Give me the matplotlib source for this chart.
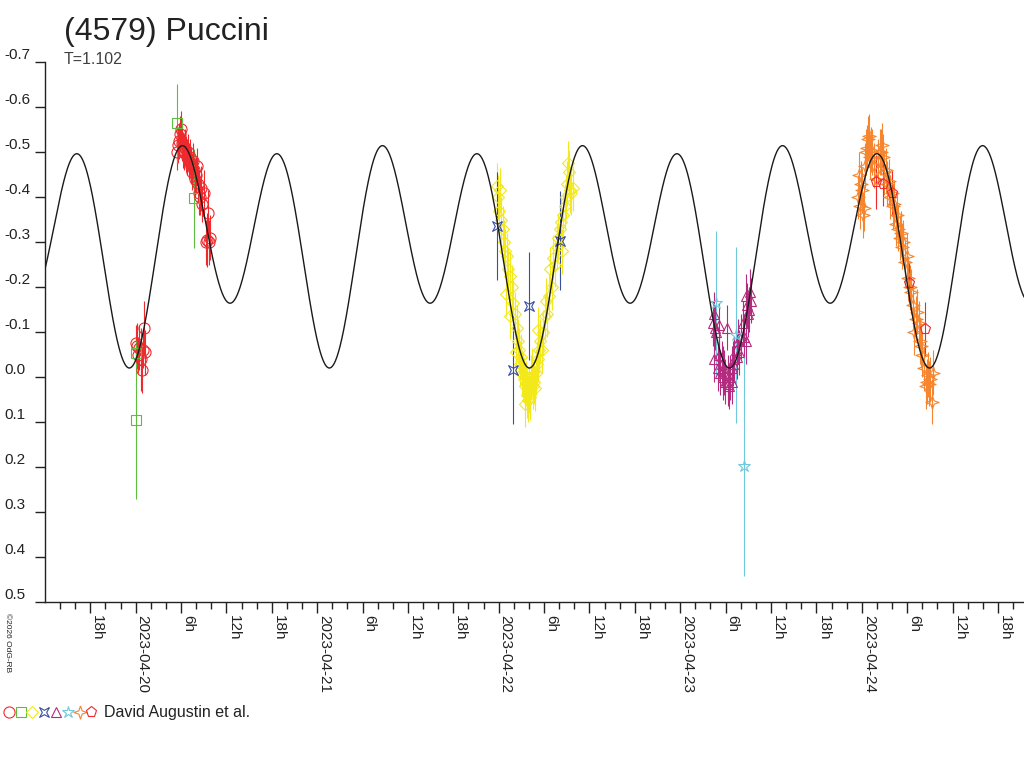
import numpy as np
import matplotlib
matplotlib.use('Agg')
import matplotlib.pyplot as plt
import matplotlib.dates as mdates
from matplotlib.lines import Line2D
from matplotlib.legend_handler import HandlerTuple
from datetime import datetime, timedelta

plt.rcParams['font.family'] = ['Liberation Sans', 'DejaVu Sans']

# fecha de referencia: horas medidas desde 2023-04-20 00h UT
base = datetime(2023, 4, 20)

# circulos rojos
red_h = [0.07, 0.20, 0.33, 0.46, 0.66, 0.79, 0.93, 1.13, 1.26,
         5.43, 5.56, 5.69, 5.83, 5.96, 6.09, 6.22, 6.36, 6.49, 6.62, 6.75,
         6.89, 7.02, 7.15, 7.28, 7.42, 7.55, 7.68, 7.81, 7.94, 8.08, 8.21,
         8.34, 8.47, 8.61, 8.74, 9.00, 9.27, 9.40, 9.53, 9.67, 9.80]
red_m = [-0.075, -0.070, -0.050, -0.065, -0.040, -0.015, -0.060, -0.110, -0.055,
         -0.500, -0.515, -0.525, -0.540, -0.550, -0.520, -0.505, -0.500, -0.510, -0.495, -0.490,
         -0.500, -0.480, -0.490, -0.470, -0.455, -0.480, -0.460, -0.440, -0.450, -0.470, -0.430,
         -0.410, -0.400, -0.420, -0.385, -0.410, -0.300, -0.305, -0.365, -0.300, -0.310]
red_e = [0.04, 0.05, 0.04, 0.05, 0.07, 0.05, 0.04, 0.06, 0.05,
         0.04, 0.04, 0.04, 0.04, 0.04, 0.04, 0.04, 0.04, 0.04, 0.04, 0.04,
         0.04, 0.04, 0.04, 0.04, 0.04, 0.04, 0.04, 0.04, 0.04, 0.04, 0.04,
         0.05, 0.04, 0.05, 0.04, 0.05, 0.05, 0.06, 0.05, 0.05, 0.05]

# cuadrados verdes
green_h = [0.04, 0.11, 5.52, 7.77]
green_m = [0.096, -0.053, -0.564, -0.397]
green_e = [0.175, 0.03, 0.088, 0.11]

# rombos amarillos (2023-04-22)
yellow_h = [47.80, 47.93, 48.06, 48.20, 48.33, 48.59, 48.73, 48.86, 49.12, 49.26,
            49.52, 48.99, 49.79, 49.92, 50.18, 49.52, 50.45, 50.58, 50.32, 50.71,
            50.85, 50.98, 51.11, 51.24, 51.37, 51.51, 51.64, 51.77, 51.51, 51.90,
            52.04, 52.17, 52.30, 52.43, 52.57, 52.70, 52.83, 52.96, 53.10, 53.23,
            53.36, 53.23, 53.49, 53.76, 53.89, 54.15, 54.29, 54.42, 54.68, 54.82,
            55.08, 55.21, 55.48, 55.74, 55.88, 56.14, 56.40, 56.27, 56.54, 56.80,
            56.93, 57.07, 57.20, 57.33, 57.46, 57.60, 57.86]
yellow_m = [-0.425, -0.400, -0.370, -0.415, -0.350, -0.330, -0.300, -0.280, -0.270, -0.240,
            -0.225, -0.185, -0.200, -0.165, -0.140, -0.135, -0.110, -0.080, -0.055, -0.060,
            -0.030, -0.045, -0.010, -0.005, 0.005, 0.020, 0.015, 0.040, 0.060, 0.050,
            0.030, 0.045, 0.000, -0.015, 0.020, 0.010, 0.025, -0.010, -0.030, -0.040,
            -0.060, -0.105, -0.080, -0.060, -0.100, -0.135, -0.170, -0.140, -0.180, -0.240,
            -0.200, -0.265, -0.250, -0.290, -0.310, -0.330, -0.280, -0.345, -0.360, -0.380,
            -0.400, -0.430, -0.475, -0.455, -0.415, -0.410, -0.420]
yellow_e = [0.05] * len(yellow_m)

# estrellas azules
blue_h = [47.84, 49.88, 52.04, 56.05]
blue_m = [-0.336, -0.016, -0.158, -0.303]
blue_e = [0.12, 0.12, 0.12, 0.11]

# triangulos morados (2023-04-23)
purple_h = [76.27, 76.40, 76.53, 76.66, 76.79, 76.93, 77.06, 77.19, 77.32, 77.46,
            77.59, 77.72, 77.85, 77.98, 78.12, 78.25, 78.38, 78.51, 78.64, 78.78,
            78.91, 79.04, 79.17, 79.31, 79.57, 79.70, 79.83, 80.10, 80.36, 80.49,
            80.63, 80.76, 80.89, 81.02, 81.15, 81.29, 81.42]
purple_m = [-0.120, -0.040, -0.140, -0.110, -0.100, -0.020, -0.115, -0.050, -0.010, -0.030,
            0.000, -0.020, -0.010, 0.010, -0.110, 0.015, 0.000, 0.020, 0.000, 0.010,
            -0.020, -0.030, -0.040, -0.060, -0.045, -0.080, -0.055, -0.090, -0.120, -0.090,
            -0.180, -0.080, -0.160, -0.140, -0.150, -0.190, -0.170]
purple_e = [0.05] * len(purple_m)

# estrellas celestes
cyan_h = [76.79, 79.31, 80.41]
cyan_m = [-0.165, -0.093, 0.198]
cyan_e = [0.16, 0.195, 0.245]

# estrellas naranjas (2023-04-24)
orange_h = [95.47, 95.60, 95.73, 95.87, 96.00, 96.13, 96.26, 96.40, 96.53, 96.66,
            96.79, 96.93, 97.06, 97.19, 97.32, 97.59, 97.85, 98.12, 98.38, 98.51,
            98.65, 98.78, 98.91, 99.18, 99.31, 99.57, 99.70, 99.97, 100.10, 100.23,
            100.50, 100.63, 100.76, 101.02, 101.16, 101.29, 101.42, 101.69, 101.95, 102.08,
            102.35, 102.48, 102.74, 102.88, 103.14, 103.27, 103.54, 103.67, 103.80, 103.93,
            104.19, 104.46, 104.59, 104.72, 104.86, 104.99, 105.25, 105.39]
orange_m = [-0.400, -0.450, -0.380, -0.430, -0.415, -0.360, -0.375, -0.470, -0.500, -0.510,
            -0.530, -0.535, -0.490, -0.505, -0.500, -0.470, -0.440, -0.480, -0.500, -0.500,
            -0.515, -0.490, -0.455, -0.460, -0.430, -0.435, -0.400, -0.410, -0.380, -0.385,
            -0.340, -0.360, -0.330, -0.310, -0.320, -0.290, -0.300, -0.255, -0.270, -0.220,
            -0.200, -0.190, -0.160, -0.100, -0.130, -0.145, -0.120, -0.080, -0.070, -0.050,
            -0.020, 0.020, 0.010, -0.005, 0.015, 0.005, 0.055, -0.010]
orange_e = [0.05] * len(orange_m)

# pentagonos rojos
penta_h = [97.85, 98.78, 100.06, 102.26, 104.38]
penta_m = [-0.434, -0.430, -0.408, -0.210, -0.107]
penta_e = [0.06, 0.05, 0.05, 0.045, 0.06]

# ajuste de Fourier de la curva de luz (periodo en dias)
periodo = 1.102
epoca = -0.033          # dias desde 2023-04-20 00h
mag_media = -0.297
a1, b1 = 0.072, -0.009
a2 = 0.205

etiqueta_y = [-0.7, -0.6, -0.5, -0.4, -0.3, -0.2, -0.1, 0.0, 0.1, 0.2, 0.3, 0.4, 0.5]


def fechas(horas):
    return mdates.date2num([base + timedelta(hours=h) for h in horas])


fig = plt.figure(figsize=(10.24, 7.68), dpi=100)
ax = fig.add_axes([45 / 1024, 1 - 602 / 768, 1 - 45 / 1024, 540 / 768])

series = [
    (red_h, red_m, red_e, 'o', '#ee2a2e', 8),
    (green_h, green_m, green_e, 's', '#5cbd3e', 6.5),
    (yellow_h, yellow_m, yellow_e, 'D', '#f3e81a', 6.3),
    (blue_h, blue_m, blue_e,
     [(1, 1), (0.45, 0), (1, -1), (0, -0.45), (-1, -1), (-0.45, 0), (-1, 1), (0, 0.45), (1, 1)],
     '#3a4ea3', 7),
    (purple_h, purple_m, purple_e, '^', '#b42a7e', 7.5),
    (cyan_h, cyan_m, cyan_e, '*', '#6fc9dc', 9),
    (orange_h, orange_m, orange_e,
     [(0, 1), (0.25, 0.25), (1, 0), (0.25, -0.25), (0, -1), (-0.25, -0.25), (-1, 0), (-0.25, 0.25), (0, 1)],
     '#f5862f', 9.5),
    (penta_h, penta_m, penta_e, 'p', '#ee2a2e', 8),
]

proxies = []
for h, m, e, mk, col, ms in series:
    ax.errorbar(fechas(h), m, yerr=e, fmt='none', ecolor=col, elinewidth=0.8, capsize=0, zorder=2)
    ax.plot(fechas(h), m, ls='none', marker=mk, ms=ms, mfc='none', mec=col, mew=0.8, zorder=3)
    proxies.append(Line2D([], [], ls='none', marker=mk, ms=ms, mfc='none', mec=col, mew=0.8))

# curva del modelo
x0 = mdates.date2num(datetime(2023, 4, 19, 12, 1))
x1 = mdates.date2num(datetime(2023, 4, 24, 21, 27))
xs = np.linspace(x0, x1, 2000)
fase = (xs - mdates.date2num(base) - epoca) / periodo
modelo = (mag_media + a1 * np.cos(2 * np.pi * fase) + b1 * np.sin(2 * np.pi * fase)
          + a2 * np.cos(4 * np.pi * fase))
ax.plot(xs, modelo, color='#1a1a1a', lw=1.0, zorder=5)

ax.set_xlim(x0, x1)
ax.set_ylim(0.5, -0.7)

for s in ['top', 'right']:
    ax.spines[s].set_visible(False)
for s in ['left', 'bottom']:
    ax.spines[s].set_color('#222222')
    ax.spines[s].set_linewidth(1.0)

ax.set_yticks(etiqueta_y)
ax.set_yticklabels([f'{v:.1f}' for v in etiqueta_y])
ax.tick_params(axis='y', direction='out', length=7.2, width=1.0, color='#222222',
               pad=22.3, labelsize=11, labelcolor='#222222')
for tl in ax.get_yticklabels():
    tl.set_ha('left')
    tl.set_va('bottom')

ax.xaxis.set_major_locator(mdates.HourLocator(byhour=[0, 6, 12, 18]))
ax.xaxis.set_minor_locator(mdates.HourLocator(byhour=range(0, 24, 2)))


def formato(x, pos):
    d = mdates.num2date(x)
    if d.hour == 0:
        return d.strftime('%Y-%m-%d')
    return f'{d.hour}h'


ax.xaxis.set_major_formatter(plt.FuncFormatter(formato))
ax.tick_params(axis='x', which='major', direction='out', length=7.9, width=1.0,
               color='#222222', pad=1.5, labelsize=11, labelcolor='#222222')
ax.tick_params(axis='x', which='minor', direction='out', length=5, width=1.0, color='#222222')
for tl in ax.get_xticklabels():
    tl.set_rotation(-90)
    tl.set_ha('left')
    tl.set_va('top')

# textos
fig.text(64 / 1024, 1 - 40 / 768, '(4579) Puccini', fontsize=23, color='#222222', va='baseline')
fig.text(64 / 1024, 1 - 64 / 768, 'T=1.102', fontsize=11.5, color='#404040', va='baseline')
fig.text(7 / 1024, 1 - 613 / 768, '©2026 OdG-RB', fontsize=6, rotation=-90,
         ha='center', va='top', color='#222222')

fig.legend([tuple(proxies)], ['David Augustin et al.'],
           handler_map={tuple: HandlerTuple(ndivide=None, pad=0)},
           loc='center left', bbox_to_anchor=(3 / 1024, 1 - 713 / 768),
           frameon=False, borderpad=0, borderaxespad=0,
           handlelength=5.9, handletextpad=0.4, fontsize=11.5,
           labelcolor='#222222')

fig.savefig('out.png', dpi=100)
